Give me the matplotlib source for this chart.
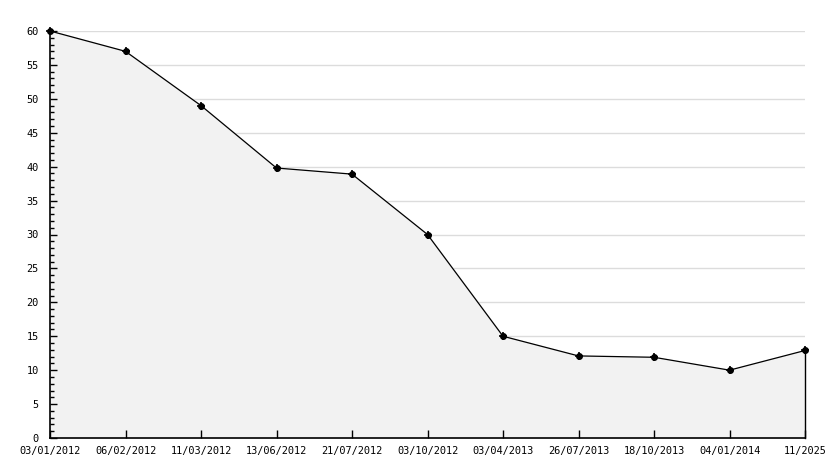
import matplotlib.pyplot as plt
from matplotlib.ticker import MultipleLocator

dates = ['03/01/2012', '06/02/2012', '11/03/2012', '13/06/2012', '21/07/2012',
         '03/10/2012', '03/04/2013', '26/07/2013', '18/10/2013', '04/01/2014', '11/2025']
values = [60, 57, 49, 39.8, 38.9, 30, 15, 12.1, 11.9, 10, 12.9]

plt.rcParams['font.family'] = 'DejaVu Sans Mono'
plt.rcParams['font.size'] = 7.4

fig = plt.figure(figsize=(8.34, 4.68), dpi=100)
ax = fig.add_axes([50 / 834, 30 / 468, 755 / 834, 407 / 468])

x = range(len(dates))
ax.set_xlim(0, len(dates) - 1)
ax.set_ylim(0, 60)
ax.set_xticks(list(x))
ax.set_xticklabels(dates)
ax.yaxis.set_major_locator(MultipleLocator(5))
ax.yaxis.set_minor_locator(MultipleLocator(1))

# grid behind the filled area, axis ticks on top
for yv in ax.get_yticks():
    if 0 < yv <= 60:
        ax.axhline(yv, color='#dcdcdc', lw=1, zorder=0)

ax.fill_between(x, values, 0, color='#f2f2f2', zorder=1)
ax.plot([x[-1], x[-1]], [0, values[-1]], color='black', lw=1, zorder=2, clip_on=False)
ax.plot(x, values, color='black', lw=0.9, marker='o', ms=4, zorder=3, clip_on=False)
ax.plot(x, values, ls='none', marker='+', ms=6, mew=1.2, color='black', zorder=3, clip_on=False)

for s in ['top', 'right']:
    ax.spines[s].set_visible(False)
ax.spines['left'].set_linewidth(1.2)
ax.spines['bottom'].set_linewidth(1.2)
for s in ['left', 'bottom']:
    ax.spines[s].set_zorder(4)

ax.tick_params(axis='y', which='major', direction='in', length=5, width=1, pad=8)
ax.tick_params(axis='y', which='minor', direction='in', length=3, width=1)
ax.tick_params(axis='x', which='major', direction='in', length=6, width=1, pad=6)
ax.tick_params(axis='both', which='both', zorder=4)

fig.savefig('out.png', dpi=100)
